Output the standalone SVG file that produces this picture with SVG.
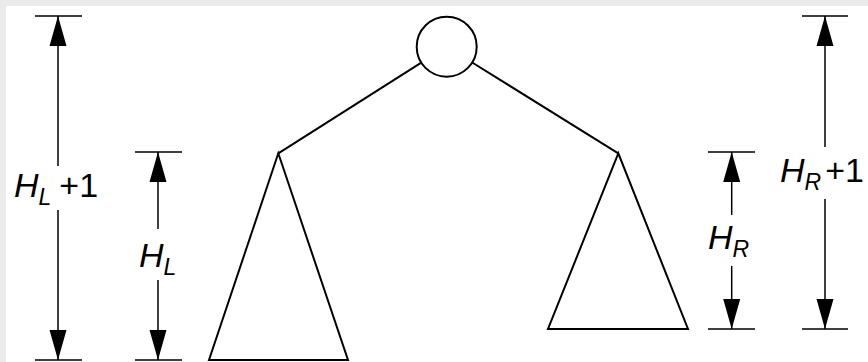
<svg xmlns="http://www.w3.org/2000/svg" width="868" height="362" viewBox="0 0 868 362">
<defs>
<marker id="arr" markerUnits="userSpaceOnUse" markerWidth="32" markerHeight="20" viewBox="0 -10 32 20" refX="30" refY="0" orient="auto-start-reverse">
<path d="M0,-8.5 L30,0 L0,8.5 z" fill="#000"/>
</marker>
</defs>
<style>
.dim{stroke:#000;stroke-width:1.5;fill:none}
.tick{stroke:#000;stroke-width:1.3}
.tree{stroke:#000;stroke-width:2;fill:#fff;stroke-linejoin:miter}
.edge{stroke:#000;stroke-width:2;fill:none}
text{font-family:"Liberation Sans",Arial,sans-serif;font-size:34px;fill:#000}
.it{font-style:italic}
.sub{font-style:italic;font-size:23px}
</style>
<rect width="868" height="362" fill="#ebebeb"/>
<rect x="6" y="6" width="862" height="356" fill="#fff"/>

<g id="connectors">
<line class="edge" x1="421.3" y1="62.7" x2="278.3" y2="153.3"/>
<line class="edge" x1="472.2" y1="62.5" x2="618.3" y2="153.3"/>
</g>

<g id="root">
<circle class="tree" cx="446.7" cy="46.7" r="30"/>
</g>
<g id="left-subtree">
<polygon class="tree" points="278.3,153.3 209,360 348,360"/>
</g>
<g id="right-subtree">
<polygon class="tree" points="618.3,153.3 548,329 688,329"/>
</g>

<g id="dim-HL1">
<line class="tick" x1="35" y1="16" x2="82" y2="16"/>
<line class="tick" x1="35" y1="360" x2="82" y2="360"/>
<line class="dim" x1="58" y1="166" x2="58" y2="16" marker-end="url(#arr)"/>
<line class="dim" x1="58" y1="210" x2="58" y2="360" marker-end="url(#arr)"/>
<text x="14" y="197"><tspan class="it">H</tspan><tspan class="sub" dy="8">L</tspan><tspan dx="8" dy="-8">+1</tspan></text>
</g>

<g id="dim-HL">
<line class="tick" x1="135" y1="152" x2="182" y2="152"/>
<line class="tick" x1="135" y1="360" x2="182" y2="360"/>
<line class="dim" x1="158" y1="229" x2="158" y2="152" marker-end="url(#arr)"/>
<line class="dim" x1="158" y1="280" x2="158" y2="360" marker-end="url(#arr)"/>
<text x="139" y="267"><tspan class="it">H</tspan><tspan class="sub" dy="8">L</tspan></text>
</g>

<g id="dim-HR">
<line class="tick" x1="708" y1="152" x2="755" y2="152"/>
<line class="tick" x1="708" y1="329" x2="755" y2="329"/>
<line class="dim" x1="731.7" y1="215" x2="731.7" y2="152" marker-end="url(#arr)"/>
<line class="dim" x1="731.7" y1="266" x2="731.7" y2="329" marker-end="url(#arr)"/>
<text x="708" y="249"><tspan class="it">H</tspan><tspan class="sub" dy="8">R</tspan></text>
</g>

<g id="dim-HR1">
<line class="tick" x1="802" y1="16" x2="848" y2="16"/>
<line class="tick" x1="802" y1="329" x2="848" y2="329"/>
<line class="dim" x1="825" y1="147" x2="825" y2="16" marker-end="url(#arr)"/>
<line class="dim" x1="825" y1="199" x2="825" y2="329" marker-end="url(#arr)"/>
<text x="780" y="182"><tspan class="it">H</tspan><tspan class="sub" dy="8">R</tspan><tspan dx="4" dy="-8">+1</tspan></text>
</g>
</svg>
